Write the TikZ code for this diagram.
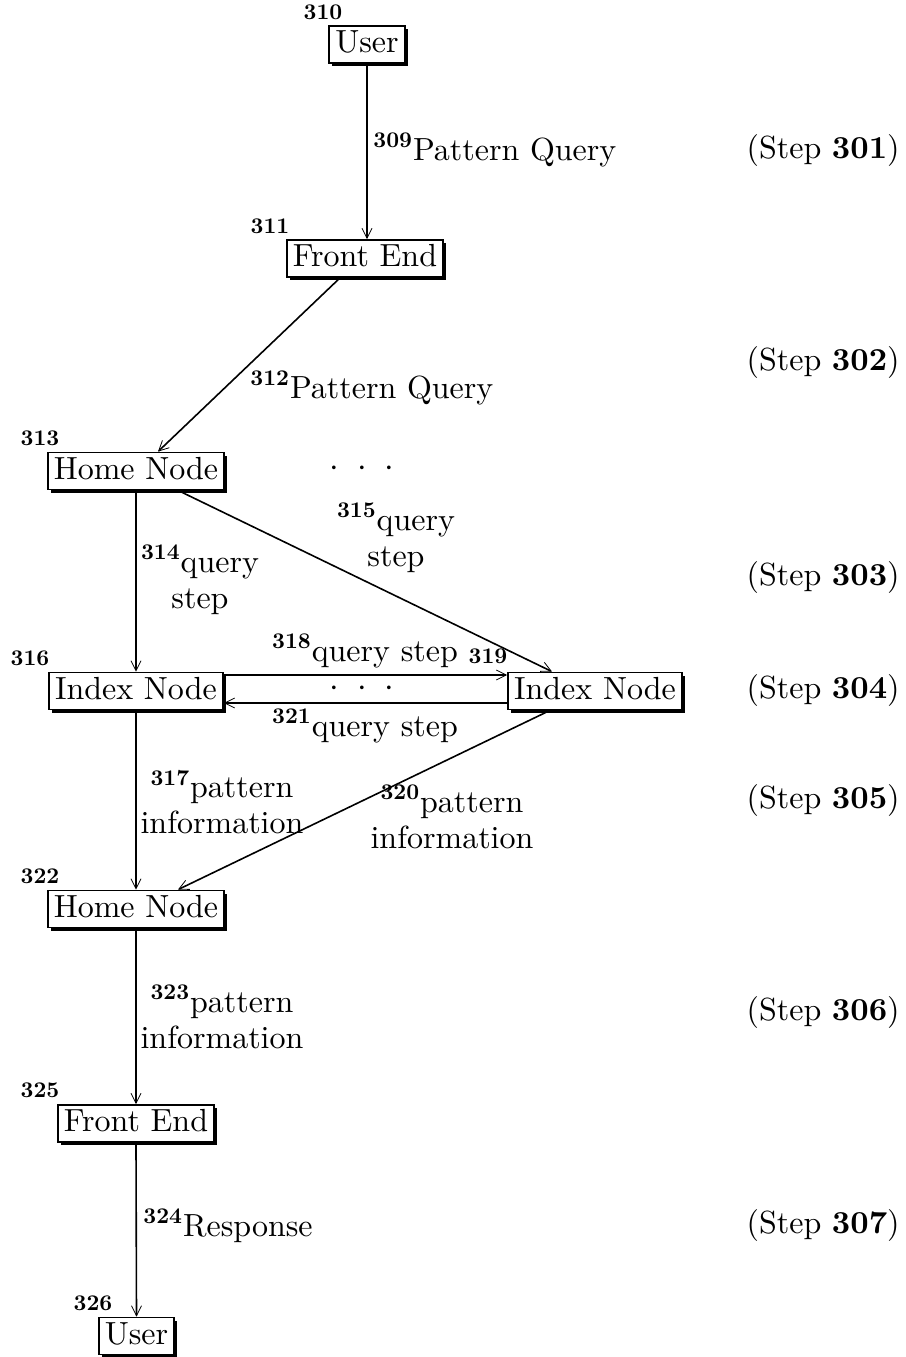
\documentclass[tikz,border=0pt]{standalone}
\usepackage{fontspec}
\setmainfont{lmroman10}[Extension=.otf,UprightFont=*-regular,BoldFont=*-bold,ItalicFont=*-italic,BoldItalicFont=*-bolditalic]
\usetikzlibrary{arrows.meta,shadows}
\newcommand\refnum[1]{\textsuperscript{\bfseries #1}}
\begin{document}
\begin{tikzpicture}[x=0.5pt,y=-0.5pt,
  font=\fontsize{16}{18}\selectfont,
  box/.style={draw,line width=0.9pt,fill=white,inner xsep=3pt,inner ysep=1.25pt,
    text height=12pt,text depth=4pt,
    drop shadow={shadow xshift=1.5pt,shadow yshift=-1.5pt,opacity=1,fill=black}},
  arr/.style={line width=0.8pt,-{Straight Barb[length=5pt,width=5pt,line width=0.4pt]}},
  num/.style={font=\fontsize{11.2}{13}\selectfont\bfseries,inner sep=0pt},
  lbl/.style={inner sep=0pt,align=center},
  dots/.style={inner sep=0pt,anchor=base,text height=6pt,text depth=0pt},
  steplbl/.style={inner sep=0pt,anchor=east}]
\useasboundingbox (0,0) rectangle (906,1357);
% boxes
\node[box] (u1) at (367,44.5) {User};
\node[box] (fe1) at (365,258.5) {Front End};
\node[box] (hn1) at (136,471) {Home Node};
\node[box] (in1) at (136,691) {Index Node};
\node[box] (in2) at (595,691) {Index Node};
\node[box] (hn2) at (136,909) {Home Node};
\node[box] (fe2) at (136,1123.5) {Front End};
\node[box] (u2) at (136.5,1336) {User};
% reference numbers
\node[num] (n310) at (323,12) {310};
\node[num] (n311) at (270,226) {311};
\node[num] (n313) at (40,438) {313};
\node[num] (n316) at (30,658) {316};
\node[num] (n319) at (488,656) {319};
\node[num] (n322) at (40,876) {322};
\node[num] (n325) at (40,1090) {325};
\node[num] (n326) at (93,1303) {326};
% connectors
\draw[arr] (u1.south) -- (fe1.north -| u1.south);
\draw[arr] (fe1.south -| 340,0) -- (hn1.north -| 158,0);
\draw[arr] (hn1.south) -- (in1.north);
\draw[arr] (hn1.south -| 178,0) -- (in2.north -| 552,0);
\draw[arr] (in1.east |- 0,675) -- (in2.west |- 0,675);
\draw[arr] (in2.west |- 0,703) -- (in1.east |- 0,703);
\draw[arr] (in1.south) -- (hn2.north);
\draw[arr] (in2.south -| 550,0) -- (hn2.north -| 178,0);
\draw[arr] (hn2.south) -- (fe2.north);
\draw[arr] (fe2.south) -- (u2.north);
% connector labels
\node[lbl,anchor=west] (l309) at (373,150) {\refnum{309}Pattern Query};
\node[lbl,anchor=west] (l312) at (250,388) {\refnum{312}Pattern Query};
\node[lbl] (l314) at (200,580) {\refnum{314}query\\step};
\node[lbl] (l315) at (396,538) {\refnum{315}query\\step};
\node[lbl] (l318) at (365,651) {\refnum{318}query step};
\node[lbl] (l321) at (365,726) {\refnum{321}query step};
\node[lbl] (l317) at (222,802) {\refnum{317}pattern\\information};
\node[lbl] (l320) at (452,817) {\refnum{320}pattern\\information};
\node[lbl] (l323) at (222,1017) {\refnum{323}pattern\\information};
\node[lbl,anchor=west] (l324) at (143,1226) {\refnum{324}Response};
% ellipses
\node[dots] (d1) at (362,476) {$\cdot$\hspace{9pt}$\cdot$\hspace{9pt}$\cdot$};
\node[dots] (d2) at (362,696) {$\cdot$\hspace{9pt}$\cdot$\hspace{9pt}$\cdot$};
% steps
\node[steplbl] (s301) at (900,150) {(Step \textbf{301})};
\node[steplbl] (s302) at (900,362) {(Step \textbf{302})};
\node[steplbl] (s303) at (900,577) {(Step \textbf{303})};
\node[steplbl] (s304) at (900,690) {(Step \textbf{304})};
\node[steplbl] (s305) at (900,800) {(Step \textbf{305})};
\node[steplbl] (s306) at (900,1012) {(Step \textbf{306})};
\node[steplbl] (s307) at (900,1225) {(Step \textbf{307})};
\end{tikzpicture}
\end{document}
